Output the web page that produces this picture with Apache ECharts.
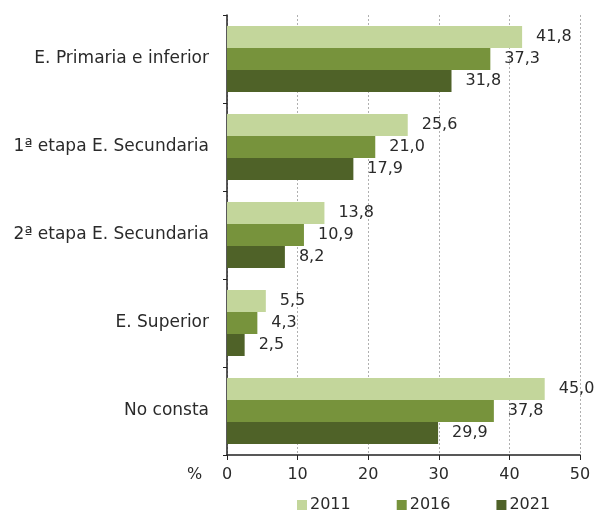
<!DOCTYPE html>
<html>
<head>
<meta charset="utf-8">
<script src="https://cdn.jsdelivr.net/npm/echarts@6/dist/echarts.min.js"></script>
<style>
  html, body { margin: 0; padding: 0; background: #fff; }
  #chart { width: 596px; height: 516px; }
</style>
</head>
<body>
<div id="chart"></div>
<script>
// Nivel de estudios: porcentaje por año
const categories = [
  'E. Primaria e inferior',
  '1ª etapa E. Secundaria',
  '2ª etapa E. Secundaria',
  'E. Superior',
  'No consta'
];
const years = ['2011', '2016', '2021'];
const values2011 = [41.8, 25.6, 13.8, 5.5, 45.0];
const values2016 = [37.3, 21.0, 10.9, 4.3, 37.8];
const values2021 = [31.8, 17.9, 8.2, 2.5, 29.9];
const xTicks = [0, 10, 20, 30, 40, 50];

const colors = ['#c3d69b', '#77933c', '#4f6228'];
const seriesValues = [values2011, values2016, values2021];
const FONT = 'DejaVu Sans, Liberation Sans, sans-serif';
const TEXT = '#2a2a2a';

const fmt = v => v.toFixed(1).replace('.', ',');

const chart = echarts.init(document.getElementById('chart'));
chart.setOption({
  animation: false,
  textStyle: { fontFamily: FONT },
  grid: { left: 227, right: 16, top: 15, bottom: 61, containLabel: false },
  legend: {
    data: years,
    top: 492,
    left: 292,
    itemWidth: 10,
    itemHeight: 10,
    itemGap: 46,
    icon: 'rect',
    textStyle: { fontSize: 16, color: TEXT, padding: [0, 0, 0, -2], fontFamily: FONT }
  },
  xAxis: {
    type: 'value',
    min: xTicks[0],
    max: xTicks[xTicks.length - 1],
    interval: 10,
    axisLine: { show: true, lineStyle: { color: '#222', width: 1.5 } },
    axisTick: { show: true, length: 5, inside: false, lineStyle: { color: '#222' } },
    axisLabel: { fontSize: 16, color: TEXT, margin: 12, fontFamily: FONT },
    splitLine: { show: true, lineStyle: { color: '#b0b0b0', type: [2, 2], width: 1 } }
  },
  yAxis: {
    type: 'category',
    data: categories,
    inverse: true,
    axisLine: { show: true, lineStyle: { color: '#222', width: 1.5 } },
    axisTick: { show: true, length: 4, lineStyle: { color: '#222' } },
    axisLabel: { fontSize: 17, color: TEXT, margin: 18, fontFamily: FONT }
  },
  graphic: [{
    type: 'text',
    left: 187,
    top: 467,
    style: { text: '%', fontSize: 16, fill: TEXT, fontFamily: FONT }
  }],
  series: years.map((y, i) => ({
    name: y,
    type: 'bar',
    data: seriesValues[i],
    barGap: '0%',
    barCategoryGap: '25%',
    itemStyle: { color: colors[i] },
    label: {
      show: true,
      position: 'right',
      distance: 14,
      fontSize: 16,
      color: TEXT,
      fontFamily: FONT,
      formatter: p => fmt(p.value)
    }
  }))
});
</script>
</body>
</html>
